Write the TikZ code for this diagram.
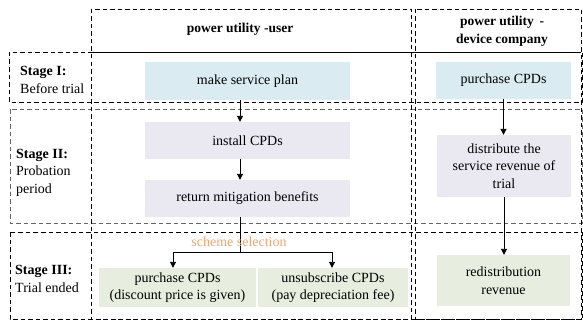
\documentclass[tikz,border=0pt]{standalone}
\usepackage{fontspec}
\setmainfont{Liberation Serif}
\usetikzlibrary{arrows.meta,calc}
\definecolor{cblue}{HTML}{DAEBF2}
\definecolor{clav}{HTML}{EAE8F0}
\definecolor{cgreen}{HTML}{E7EEDF}
\definecolor{corange}{HTML}{F5A46A}
\tikzset{
  frame/.style={draw=black, line width=0.9pt, dash pattern=on 4.5pt off 3pt},
  grayframe/.style={draw=black!60, line width=0.9pt, dash pattern=on 4.5pt off 3pt},
  box/.style={inner sep=1pt, align=center, font=\fontsize{14}{17.5}\selectfont},
  lbl/.style={anchor=west, align=left, font=\fontsize{14}{17.5}\selectfont, inner sep=0pt},
  hdr/.style={align=center, font=\fontsize{13.5}{18}\selectfont\bfseries, inner sep=0pt},
  arr/.style={draw=black, line width=0.9pt, -{Triangle[length=6pt,width=6pt]}},
  ln/.style={draw=black, line width=0.9pt}
}
\begin{document}
\begin{tikzpicture}[x=1pt,y=-1pt]
\useasboundingbox (0,0) rectangle (583,321);
% stage frames
\draw[frame] (9,52) rectangle (582,102);
\draw[grayframe] (10,109) rectangle (582,223);
\draw[frame] (10,232) rectangle (582,319);
% column frames
\draw[frame] (91,9) rectangle (411.5,319);
\draw[frame] (415.5,9) rectangle (581,319);
\draw[frame] (91,52) -- (581,52);
% headers
\node[hdr] (h1) at (240,29) {power utility -user};
\node[hdr] (h2) at (502,31) {power utility \,-\\device company};
% stage labels
\node[lbl] (s1) at (20,80) {\textbf{Stage I:}\\Before trial};
\node[lbl] (s2) at (16,172.5) {\textbf{Stage II:}\\Probation\\period};
\node[lbl] (s3) at (15,279) {\textbf{Stage III:}\\Trial ended};
% boxes
\node[box, fill=cblue, minimum width=205pt, minimum height=38pt] (plan) at (247.5,81) {make service plan};
\node[box, fill=cblue, minimum width=135pt, minimum height=37pt] (buy) at (503.5,80.5) {purchase CPDs};
\node[box, fill=clav, minimum width=205pt, minimum height=37pt] (install) at (247.5,140.5) {install CPDs};
\node[box, fill=clav, minimum width=205pt, minimum height=37pt] (ret) at (247.5,198.5) {return mitigation benefits};
\node[box, fill=clav, minimum width=134pt, minimum height=62pt] (distr) at (504,166) {distribute the\\service revenue of\\trial};
\node[box, fill=cgreen, minimum width=157pt, minimum height=39pt] (pcpd) at (177.5,287.5) {purchase CPDs\\(discount price is given)};
\node[box, fill=cgreen, minimum width=150pt, minimum height=39pt] (unsub) at (333,287.5) {unsubscribe CPDs\\(pay depreciation fee)};
\node[box, fill=cgreen, minimum width=133pt, minimum height=51pt] (redis) at (503.5,280.5) {redistribution\\revenue};
% arrows
\draw[arr] ([xshift=-7.5pt]plan.south) -- ([xshift=-7.5pt]install.north);
\draw[arr] ([xshift=-7.5pt]install.south) -- ([xshift=-7.5pt]ret.south |- ret.north);
\draw[arr] (buy.south) -- (buy.south |- distr.north);
\draw[arr] (distr.south) -- (distr.south |- redis.north);
\coordinate (j) at (240,252);
\draw[ln] ([xshift=-7.5pt]ret.south) -- (j);
\draw[arr] (j) -| ([xshift=-4.5pt]pcpd.north);
\draw[arr] (j) -| ([xshift=-1pt]unsub.north);
\node[font=\fontsize{14}{16}\selectfont, text=corange, inner sep=0pt] (sel) at (239,242) {scheme selection};
\end{tikzpicture}
\end{document}
